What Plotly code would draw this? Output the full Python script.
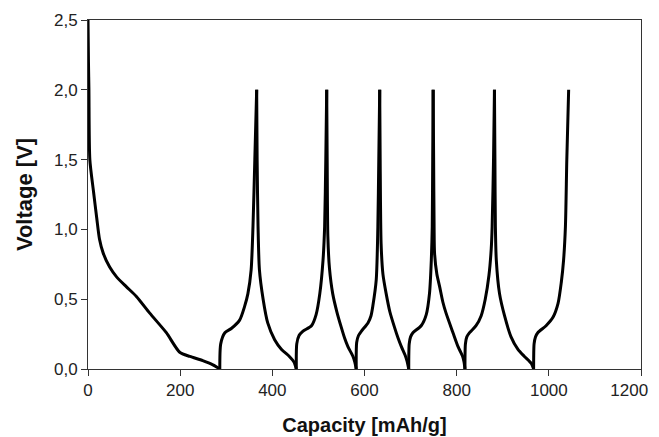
import plotly.graph_objects as go

# first discharge
discharge_1_cap = [0, 1, 2, 4, 12, 19, 25, 33, 47, 62, 83, 105, 134, 170, 199, 221, 249, 271, 286]
discharge_1_v = [2.5, 2.2, 2.0, 1.5, 1.27, 1.08, 0.93, 0.83, 0.73, 0.66, 0.59, 0.52, 0.40, 0.26, 0.12, 0.09, 0.06, 0.03, 0.0]

charge_1_cap = [286, 288, 297, 311, 329, 340, 347, 354, 358, 362, 366]
charge_1_v = [0.0, 0.18, 0.26, 0.29, 0.35, 0.45, 0.54, 0.71, 1.02, 1.5, 2.0]

discharge_2_cap = [366, 367, 369, 372, 380, 390, 405, 420, 437, 447, 452]
discharge_2_v = [2.0, 1.5, 1.02, 0.71, 0.50, 0.33, 0.21, 0.14, 0.09, 0.05, 0.0]

charge_2_cap = [452, 453, 458, 466, 485, 495, 503, 510, 513.5, 516, 518]
charge_2_v = [0.0, 0.18, 0.24, 0.27, 0.31, 0.39, 0.54, 0.78, 1.02, 1.5, 2.0]

discharge_3_cap = [518, 519, 520.5, 524, 531, 540, 549.5, 557, 564, 575, 579, 582]
discharge_3_v = [2.0, 1.5, 0.95, 0.72, 0.54, 0.41, 0.30, 0.22, 0.16, 0.09, 0.05, 0.0]

charge_3_cap = [582, 583, 587, 593, 607.5, 614, 618, 625.5, 629, 631, 633]
charge_3_v = [0.0, 0.19, 0.24, 0.27, 0.33, 0.38, 0.45, 0.64, 1.02, 1.5, 2.0]

discharge_4_cap = [633, 634, 636, 640, 647, 655, 665, 673, 680, 688, 692, 696]
discharge_4_v = [2.0, 1.5, 0.9, 0.68, 0.54, 0.41, 0.30, 0.22, 0.16, 0.10, 0.06, 0.0]

charge_4_cap = [696, 697, 700, 705, 723, 734, 741, 745, 747, 748, 749]
charge_4_v = [0.0, 0.18, 0.23, 0.26, 0.31, 0.39, 0.54, 0.78, 1.02, 1.5, 2.0]

discharge_5_cap = [749, 750, 751, 752, 757, 763, 770, 777, 792, 803, 813, 816, 818]
discharge_5_v = [2.0, 1.5, 1.02, 0.83, 0.68, 0.59, 0.48, 0.40, 0.26, 0.16, 0.09, 0.05, 0.0]

charge_5_cap = [818, 819, 822, 828, 842, 853, 862, 870, 875, 877, 880, 882]
charge_5_v = [0.0, 0.18, 0.23, 0.26, 0.31, 0.38, 0.50, 0.67, 0.86, 1.02, 1.5, 2.0]

discharge_6_cap = [882, 883, 884, 886, 893, 904, 918, 933, 947, 962, 967]
discharge_6_v = [2.0, 1.5, 1.02, 0.78, 0.54, 0.38, 0.23, 0.14, 0.09, 0.04, 0.0]

charge_6_cap = [967, 968, 971, 976, 994, 1009, 1020, 1027, 1032, 1036, 1039, 1043]
charge_6_v = [0.0, 0.18, 0.23, 0.26, 0.31, 0.37, 0.47, 0.62, 0.78, 1.02, 1.5, 2.0]

x_ticks = [0, 200, 400, 600, 800, 1000, 1200]
# last label padded so it stays inside the picture, like the original
x_tick_labels = ["0", "200", "400", "600", "800", "1000", "1200\u00a0\u00a0\u00a0\u00a0\u00a0"]
y_ticks = [0.0, 0.5, 1.0, 1.5, 2.0, 2.5]

segments = [
    (discharge_1_cap, discharge_1_v), (charge_1_cap, charge_1_v),
    (discharge_2_cap, discharge_2_v), (charge_2_cap, charge_2_v),
    (discharge_3_cap, discharge_3_v), (charge_3_cap, charge_3_v),
    (discharge_4_cap, discharge_4_v), (charge_4_cap, charge_4_v),
    (discharge_5_cap, discharge_5_v), (charge_5_cap, charge_5_v),
    (discharge_6_cap, discharge_6_v), (charge_6_cap, charge_6_v),
]

fig = go.Figure()
for cap, v in segments:
    fig.add_trace(go.Scatter(
        x=cap, y=v, mode="lines",
        line=dict(color="black", width=3, shape="spline", smoothing=0.7),
        showlegend=False, hoverinfo="skip",
    ))

axis_style = dict(
    showline=True, linecolor="#333", linewidth=1, mirror=True,
    ticks="outside", ticklen=6, tickcolor="#333", tickwidth=1,
    showgrid=False, zeroline=False, automargin=False,
    ticklabeloverflow="allow",
    tickfont=dict(family="Liberation Sans, Arial", size=17, color="#222"),
)

fig.update_xaxes(
    range=[0, 1200], tickvals=x_ticks, ticktext=x_tick_labels,
    title=dict(text="<b>Capacity [mAh/g]</b>", standoff=18,
               font=dict(family="Liberation Sans, Arial", size=20, color="#111")),
    **axis_style,
)
fig.update_yaxes(
    range=[0, 2.5], tickvals=y_ticks, tickformat=".1f",
    title=dict(text="<b>Voltage [V]</b>", standoff=15,
               font=dict(family="Liberation Sans, Arial", size=22, color="#111")),
    **axis_style,
)

# page body adds an 8px offset, so the figure is a bit smaller than the window
fig.update_layout(
    width=651, height=429,
    margin=dict(l=80, r=18, t=12, b=68),
    plot_bgcolor="white", paper_bgcolor="white",
    separators=", ",
)

fig.write_html("out.html")
